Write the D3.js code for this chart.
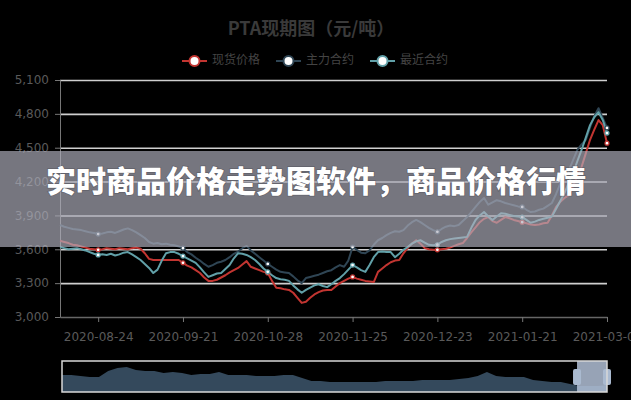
<!DOCTYPE html>
<html><head><meta charset="utf-8">
<script src="https://cdn.jsdelivr.net/npm/d3@7/dist/d3.min.js"></script>
<style>html,body{margin:0;padding:0;background:#000;overflow:hidden}svg{display:block}</style>
</head><body>
<svg id="c" width="631" height="400"></svg>
<script>
const dates = ["2020-08-11","2020-08-12","2020-08-13","2020-08-14","2020-08-17","2020-08-18","2020-08-19","2020-08-20","2020-08-21","2020-08-24",
"2020-08-25","2020-08-26","2020-08-27","2020-08-28","2020-08-31","2020-09-01","2020-09-02","2020-09-03","2020-09-04","2020-09-07",
"2020-09-08","2020-09-09","2020-09-10","2020-09-11","2020-09-14","2020-09-15","2020-09-16","2020-09-17","2020-09-18","2020-09-21",
"2020-09-22","2020-09-23","2020-09-24","2020-09-25","2020-09-28","2020-09-29","2020-09-30","2020-10-12","2020-10-13","2020-10-14",
"2020-10-15","2020-10-16","2020-10-19","2020-10-20","2020-10-21","2020-10-22","2020-10-23","2020-10-26","2020-10-27","2020-10-28",
"2020-10-29","2020-10-30","2020-11-02","2020-11-03","2020-11-04","2020-11-05","2020-11-06","2020-11-09","2020-11-10","2020-11-11",
"2020-11-12","2020-11-13","2020-11-16","2020-11-17","2020-11-18","2020-11-19","2020-11-20","2020-11-23","2020-11-24","2020-11-25",
"2020-11-26","2020-11-27","2020-11-30","2020-12-01","2020-12-02","2020-12-03","2020-12-04","2020-12-07","2020-12-08","2020-12-09",
"2020-12-10","2020-12-11","2020-12-14","2020-12-15","2020-12-16","2020-12-17","2020-12-18","2020-12-21","2020-12-22","2020-12-23",
"2020-12-24","2020-12-25","2020-12-28","2020-12-29","2020-12-30","2020-12-31","2021-01-04","2021-01-05","2021-01-06","2021-01-07",
"2021-01-08","2021-01-11","2021-01-12","2021-01-13","2021-01-14","2021-01-15","2021-01-18","2021-01-19","2021-01-20","2021-01-21",
"2021-01-22","2021-01-25","2021-01-26","2021-01-27","2021-01-28","2021-01-29","2021-02-01","2021-02-02","2021-02-03","2021-02-04",
"2021-02-05","2021-02-08","2021-02-09","2021-02-10","2021-02-18","2021-02-19","2021-02-22","2021-02-24","2021-02-26","2021-03-02"];

// 现货价格
const spot = [3675,3665,3655,3640,3635,3625,3615,3605,3600,3595,
3600,3610,3605,3600,3610,3605,3600,3610,3615,3605,
3565,3515,3505,3505,3505,3505,3505,3505,3505,3480,
3455,3440,3415,3390,3350,3320,3320,3330,3350,3370,
3395,3415,3435,3465,3495,3445,3430,3415,3400,3390,
3320,3260,3255,3245,3240,3215,3170,3125,3135,3170,
3200,3220,3235,3240,3240,3270,3300,3320,3340,3355,
3340,3330,3320,3315,3310,3400,3430,3460,3485,3500,
3505,3565,3610,3650,3680,3650,3610,3600,3595,3595,
3600,3605,3615,3630,3645,3655,3700,3750,3795,3840,
3870,3885,3850,3835,3860,3885,3875,3860,3850,3840,
3830,3820,3815,3820,3830,3835,3900,3975,4020,4055,
4080,4160,4250,4330,4450,4570,4660,4745,4700,4540];

// 主力合约
const mainContract = [3815,3800,3790,3780,3775,3770,3760,3750,3745,3735,
3740,3750,3755,3745,3760,3775,3785,3770,3750,3725,
3700,3665,3650,3655,3645,3650,3640,3635,3625,3610,
3575,3555,3525,3500,3470,3445,3460,3480,3490,3505,
3530,3560,3580,3610,3630,3590,3560,3530,3500,3470,
3445,3420,3400,3395,3390,3360,3325,3300,3345,3355,
3365,3375,3390,3405,3415,3440,3460,3445,3500,3620,
3595,3570,3565,3590,3640,3680,3700,3725,3745,3760,
3755,3770,3810,3840,3860,3840,3815,3790,3770,3755,
3780,3800,3810,3805,3815,3850,3885,3930,3975,4020,
4055,3995,4015,4035,4025,4010,4000,3990,3980,3975,
3950,3930,3935,3950,3960,3985,4010,4090,4185,4250,
4300,4390,4480,4530,4570,4680,4780,4850,4765,4675];

// 最近合约
const nearContract = [3620,3610,3600,3605,3610,3600,3590,3575,3560,3550,
3555,3550,3560,3545,3555,3570,3575,3555,3530,3505,
3470,3435,3390,3420,3500,3565,3575,3575,3560,3540,
3520,3500,3480,3440,3395,3355,3370,3385,3390,3425,
3460,3520,3565,3560,3550,3530,3505,3470,3430,3400,
3370,3345,3335,3330,3320,3280,3245,3215,3240,3260,
3280,3290,3275,3265,3290,3320,3345,3380,3420,3460,
3440,3415,3400,3460,3530,3575,3580,3575,3575,3530,
3560,3595,3620,3650,3670,3680,3660,3640,3635,3640,
3665,3680,3690,3695,3700,3705,3710,3790,3860,3900,
3930,3890,3860,3890,3920,3915,3905,3895,3890,3885,
3860,3835,3845,3860,3870,3880,3890,3960,4030,4100,
4190,4275,4380,4480,4590,4700,4770,4815,4745,4630];

const seriesNames = ["现货价格", "主力合约", "最近合约"];
const seriesColors = ["#c23531", "#2f4554", "#61a0a8"];
const yTicks = [3000, 3300, 3600, 3900, 4200, 4500, 4800, 5100];
const labelDates = ["2020-08-24","2020-09-21","2020-10-28","2020-11-25","2020-12-23","2021-01-21","2021-03-02"];
// data-zoom shadow (full history)
const shadow = [5740,5740,5580,5420,5420,6390,6870,7030,6550,6390,
6390,6070,6230,6070,5740,5900,5900,6230,5740,5740,
5740,5580,5580,5580,5740,5740,5260,4770,4770,4610,
4610,4610,4610,4610,4610,4770,4770,4770,4770,4940,
4940,4940,4940,5100,5260,5580,6230,5580,5420,5420,
5420,4940,4770,4610,4610,4290,3970,3970,3970,4130];
const zoomRange = [94.5, 100];
const titleText = "PTA现期图（元/吨）";
const bannerText = "实时商品价格走势图软件，商品价格行情";

const svg = d3.select("#c");
const W = 631, H = 400;
const m = {l: 60, r: 607, t: 80, b: 317};
svg.append("rect").attr("width", W).attr("height", H).attr("fill", "#000");

const x = d3.scalePoint().domain(dates).range([m.l, m.r]);
const y = d3.scaleLinear().domain([3000, 5100]).range([m.b, m.t]);

// grid
const grid = svg.append("g").attr("transform", `translate(${m.l},0)`)
  .call(d3.axisLeft(y).tickValues(yTicks.slice(1)).tickSize(-(m.r - m.l)).tickFormat(""));
grid.select(".domain").remove();
grid.selectAll("line").attr("stroke", "#cfcfcf").attr("stroke-width", 1.6);

// y axis
const ya = svg.append("g").attr("transform", `translate(${m.l},0)`)
  .call(d3.axisLeft(y).tickValues(yTicks).tickSize(5).tickPadding(6).tickFormat(d3.format(",")));
ya.select(".domain").attr("stroke", "#777").attr("stroke-width", 1);
ya.selectAll("line").attr("stroke", "#777");
ya.selectAll("text").attr("fill", "#5a5a5a").attr("font-family", "DejaVu Sans, sans-serif").attr("font-size", 12);

// x axis
const xa = svg.append("g").attr("transform", `translate(0,${m.b})`)
  .call(d3.axisBottom(x).tickValues(labelDates).tickSize(5).tickPadding(10).tickSizeOuter(0));
xa.select(".domain").attr("stroke", "#666").attr("stroke-width", 1.4);
xa.selectAll("line").attr("stroke", "#777");
xa.selectAll("text").attr("fill", "#5a5a5a").attr("font-family", "DejaVu Sans, sans-serif").attr("font-size", 12);

// lines
const series = [spot, mainContract, nearContract];
const line = d3.line().x((d, i) => x(dates[i])).y(d => y(d));
series.forEach((s, k) => {
  svg.append("path").datum(s).attr("d", line).attr("fill", "none")
    .attr("stroke", seriesColors[k]).attr("stroke-width", 2).attr("stroke-linejoin", "round");
});
series.forEach((s, k) => {
  svg.append("g").selectAll("circle").data(labelDates).join("circle")
    .attr("cx", d => x(d)).attr("cy", d => y(s[dates.indexOf(d)])).attr("r", 2)
    .attr("fill", "#fff").attr("stroke", seriesColors[k]).attr("stroke-width", 1.2);
});

// title
svg.append("text").attr("x", 311).attr("y", 30).attr("text-anchor", "middle").attr("dominant-baseline", "middle")
  .attr("font-family", "Noto Sans CJK SC, sans-serif").attr("font-weight", "bold").attr("font-size", 18)
  .attr("fill", "#3a3a3a").text(titleText);

// legend
const legend = svg.append("g");
const itemW = 94, startX = 182;
seriesNames.forEach((n, k) => {
  const gx = startX + k * itemW;
  const g = legend.append("g").attr("transform", `translate(${gx},61)`);
  g.append("line").attr("x1", 0).attr("x2", 25).attr("y1", 0).attr("y2", 0)
    .attr("stroke", seriesColors[k]).attr("stroke-width", 2);
  g.append("circle").attr("cx", 12.5).attr("cy", 0).attr("r", 5).attr("fill", "#fff")
    .attr("stroke", seriesColors[k]).attr("stroke-width", 2);
  g.append("text").attr("x", 30).attr("y", 0).attr("dominant-baseline", "middle")
    .attr("font-family", "Noto Sans CJK SC, sans-serif").attr("font-size", 12).attr("fill", "#444").text(n);
});

// data zoom slider
const sx = d3.scaleLinear().domain([0, shadow.length - 1]).range([62, 607]);
const sy = d3.scaleLinear().domain([3000, 8000]).range([392, 361]);
const pct = d3.scaleLinear().domain([0, 100]).range([62, 607]);
const area = d3.area().x((d, i) => sx(i)).y0(392).y1(d => sy(d));
svg.append("path").datum(shadow).attr("d", area).attr("fill", "#34495c");
const fx0 = pct(zoomRange[0]), fx1 = pct(zoomRange[1]);
svg.append("rect").attr("x", fx0).attr("y", 361).attr("width", fx1 - fx0).attr("height", 31)
  .attr("fill", "rgba(178,192,214,0.85)");
[fx0, fx1].forEach(hx => {
  svg.append("rect").attr("x", hx - 4).attr("y", 369).attr("width", 8).attr("height", 16)
    .attr("rx", 2).attr("fill", "rgb(170,186,208)");
});
svg.append("rect").attr("x", 62).attr("y", 361).attr("width", 545).attr("height", 31)
  .attr("fill", "none").attr("stroke", "#d8d8d8").attr("stroke-width", 1.5);

// banner overlay
svg.append("rect").attr("x", 0).attr("y", 151).attr("width", W).attr("height", 96)
  .attr("fill", "rgb(176,176,190)").attr("fill-opacity", 0.67);
svg.append("text").attr("x", 316).attr("y", 184).attr("text-anchor", "middle").attr("dominant-baseline", "middle")
  .attr("font-family", "Noto Sans CJK SC, sans-serif").attr("font-weight", 900).attr("font-size", 30)
  .attr("fill", "#fff").style("paint-order", "stroke").attr("stroke", "rgba(60,60,70,0.35)").attr("stroke-width", 1.5)
  .text(bannerText);
</script>
</body></html>
